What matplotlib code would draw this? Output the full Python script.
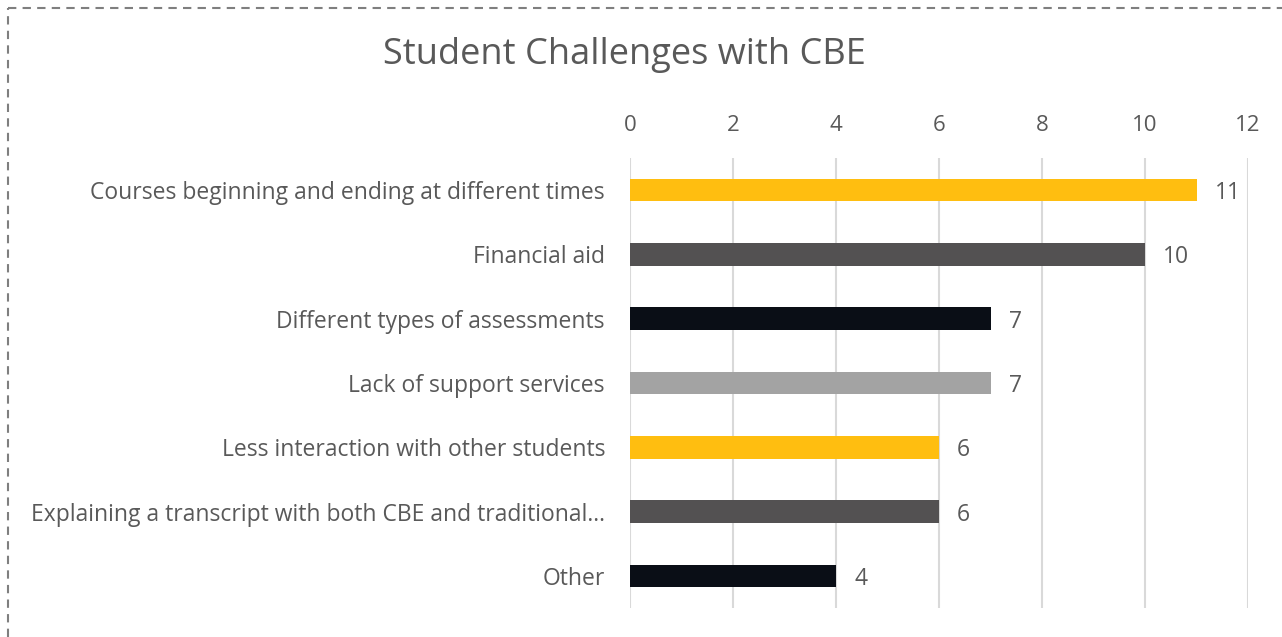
import matplotlib.pyplot as plt
from matplotlib.lines import Line2D

# Data
categories = [
    "Courses beginning and ending at different times",
    "Financial aid",
    "Different types of assessments",
    "Lack of support services",
    "Less interaction with other students",
    "Explaining a transcript with both CBE and traditional...",
    "Other",
]
counts = [11, 10, 7, 7, 6, 6, 4]
colors = ["#FFBE10", "#535152", "#0A0E16", "#A3A3A3", "#FFBE10", "#535152", "#0A0E16"]
ticks = [0, 2, 4, 6, 8, 10, 12]

text_color = "#595959"
plt.rcParams["font.family"] = ["Open Sans", "DejaVu Sans"]

fig = plt.figure(figsize=(12.82, 6.37), dpi=100)
ax = fig.add_axes([630 / 1282, 1 - 608 / 637, (1248 - 630) / 1282, (608 - 158) / 637])

ypos = list(range(len(categories)))
ax.barh(ypos, counts, height=0.35, color=colors, zorder=3)
for y, v in zip(ypos, counts):
    ax.text(v + 0.35, y, str(v), va="center_baseline", ha="left", fontsize=16.5, color=text_color)

ax.set_xlim(0, 12)
ax.set_ylim(len(categories) - 0.5, -0.5)
ax.set_xticks(ticks)
ax.set_yticks(ypos)
ax.set_yticklabels(categories)
ax.xaxis.tick_top()
ax.tick_params(axis="x", length=0, pad=16, labelsize=16, colors=text_color)
ax.tick_params(axis="y", length=0, pad=18, labelsize=16.5, colors=text_color)
ax.grid(axis="x", color="#D9D9D9", linewidth=1.5, zorder=0)
for s in ax.spines.values():
    s.set_visible(False)

fig.text(624 / 1282, 1 - 55 / 637, "Student Challenges with CBE", ha="center", va="center",
         fontsize=26, color=text_color)

# dashed frame on the left and top edges
fig.add_artist(Line2D([8 / 1282, 8 / 1282], [0, 1 - 8 / 637], transform=fig.transFigure,
                      color="#7F7F7F", linestyle=(0, (4, 3)), linewidth=1.5))
fig.add_artist(Line2D([8 / 1282, 1], [1 - 8 / 637, 1 - 8 / 637], transform=fig.transFigure,
                      color="#7F7F7F", linestyle=(0, (4, 3)), linewidth=1.5))

fig.savefig("out.png", dpi=100)
